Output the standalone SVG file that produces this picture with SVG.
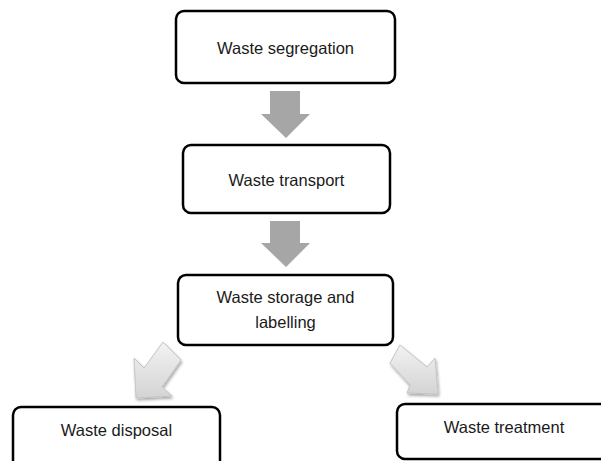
<svg xmlns="http://www.w3.org/2000/svg" width="601" height="461" viewBox="0 0 601 461">
<defs>
<linearGradient id="lg" x1="0" y1="0" x2="0" y2="1">
<stop offset="0" stop-color="#f2f2f2"/>
<stop offset="1" stop-color="#d4d4d4"/>
</linearGradient>
<filter id="sh" x="-20%" y="-20%" width="150%" height="150%">
<feGaussianBlur in="SourceAlpha" stdDeviation="1.5"/>
<feOffset dx="1" dy="2" result="b"/>
<feComponentTransfer><feFuncA type="linear" slope="0.35"/></feComponentTransfer>
<feMerge><feMergeNode/><feMergeNode in="SourceGraphic"/></feMerge>
</filter>
</defs>
<style>
.box{fill:#fff;stroke:#000;stroke-width:2.5}
.t{font-family:"Liberation Sans",Arial,sans-serif;font-size:16.5px;fill:#1a1a1a;text-anchor:middle}
.ga{fill:#a6a6a6}
.la{fill:url(#lg);stroke:#c4c4c4;stroke-width:1;filter:url(#sh)}
</style>
<rect width="601" height="461" fill="#fff"/>
<g id="connectors">
<polygon class="ga" points="270,91 300,91 300,114 310,114 286,138 261,114 270,114"/>
<polygon class="ga" points="270,221 300,221 300,243 310,243 286,267 261,243 270,243"/>
<polygon class="la" points="163,342 181,360 162,387 172,396 136,398 134,358 144,368"/>
<polygon class="la" points="400,345 390,363 410,385 407,393 438,394 435,358 427,367"/>
</g>
<g id="n1"><rect class="box" x="176" y="11" width="219" height="72" rx="8"/><text class="t" x="285.5" y="54">Waste segregation</text></g>
<g id="n2"><rect class="box" x="183" y="145" width="207" height="68" rx="8"/><text class="t" x="286.5" y="186">Waste transport</text></g>
<g id="n3"><rect class="box" x="178" y="275" width="215" height="70" rx="8"/><text class="t" x="285.5" y="303">Waste storage and</text><text class="t" x="285.5" y="328">labelling</text></g>
<g id="n4"><rect class="box" x="13" y="407" width="207" height="70" rx="8"/><text class="t" x="116.5" y="436">Waste disposal</text></g>
<g id="n5"><rect class="box" x="397" y="404" width="214" height="55" rx="8"/><text class="t" x="504" y="433">Waste treatment</text></g>
</svg>
